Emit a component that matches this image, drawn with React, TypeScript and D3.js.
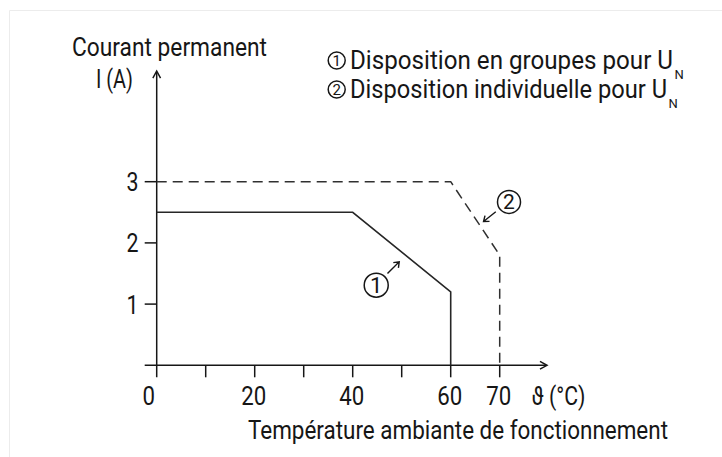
import React, { useEffect, useRef } from 'react';
import * as d3 from 'd3';

// Data
const tempTicks = [0, 10, 20, 30, 40, 50, 60, 70];
const tempLabels = [0, 20, 40, 60, 70];
const currentTicks = [1, 2, 3];
const groupTemp = [0, 40, 60, 60];
const groupCurrent = [2.5, 2.5, 1.2, 0];
const singleTemp = [0, 60, 70, 70];
const singleCurrent = [3, 3, 1.8, 0];
const legendItems = ['Disposition en groupes pour U', 'Disposition individuelle pour U'];

const FONT = 'Roboto, "Noto Sans", sans-serif';
const INK = '#161616';

const App = () => {
  const svgRef = useRef<SVGSVGElement | null>(null);

  useEffect(() => {
    const svg = d3.select(svgRef.current);
    svg.selectAll('*').remove();

    const x = d3.scaleLinear().domain([0, 70]).range([156.7, 499.7]);
    const y = d3.scaleLinear().domain([0, 3]).range([365.3, 181.7]);

    // faint frame
    svg.append('path')
      .attr('d', 'M9.5,457 V10.5 H722')
      .attr('fill', 'none')
      .attr('stroke', '#ececec')
      .attr('stroke-width', 1);

    const chevron = (tx: number, ty: number, angle: number, len = 8, spread = 0.5) => {
      const a1 = angle + Math.PI - spread;
      const a2 = angle + Math.PI + spread;
      return `M${tx + len * Math.cos(a1)},${ty + len * Math.sin(a1)} L${tx},${ty} L${tx + len * Math.cos(a2)},${ty + len * Math.sin(a2)}`;
    };

    const axes = svg.append('g')
      .attr('stroke', INK)
      .attr('stroke-width', 1.5)
      .attr('fill', 'none');

    // X axis with arrow
    axes.append('line')
      .attr('x1', x(0) - 12).attr('x2', 546)
      .attr('y1', y(0)).attr('y2', y(0));
    axes.append('path').attr('d', chevron(547, y(0), 0));

    // Y axis with arrow
    axes.append('line')
      .attr('x1', x(0)).attr('x2', x(0))
      .attr('y1', y(0) + 12).attr('y2', 72);
    axes.append('path').attr('d', chevron(x(0), 71, -Math.PI / 2));

    // x ticks
    axes.selectAll('.xtick')
      .data(tempTicks.filter(d => d > 0))
      .enter()
      .append('line')
      .attr('x1', d => x(d)).attr('x2', d => x(d))
      .attr('y1', y(0)).attr('y2', y(0) + 12);

    // y ticks
    axes.selectAll('.ytick')
      .data(currentTicks)
      .enter()
      .append('line')
      .attr('x1', x(0) - 12).attr('x2', x(0))
      .attr('y1', d => y(d)).attr('y2', d => y(d));

    // tick labels
    svg.selectAll('.xlabel')
      .data(tempLabels)
      .enter()
      .append('text')
      .attr('x', d => x(d) + (d === 0 ? -8 : -1))
      .attr('y', 405)
      .attr('text-anchor', 'middle')
      .attr('textLength', d => String(d).length * 12.5)
      .attr('lengthAdjust', 'spacingAndGlyphs')
      .style('font-family', FONT)
      .style('font-size', '25px')
      .style('fill', INK)
      .text(d => d);

    svg.selectAll('.ylabel')
      .data(currentTicks)
      .enter()
      .append('text')
      .attr('x', 138.5)
      .attr('y', d => y(d) + 9.5)
      .attr('text-anchor', 'end')
      .attr('textLength', 12)
      .attr('lengthAdjust', 'spacingAndGlyphs')
      .style('font-family', FONT)
      .style('font-size', '25px')
      .style('fill', INK)
      .text(d => d);

    const label = (tx: number, ty: number, s: string, len: number, size = 25) =>
      svg.append('text')
        .attr('x', tx).attr('y', ty)
        .attr('textLength', len)
        .attr('lengthAdjust', 'spacingAndGlyphs')
        .style('font-family', FONT)
        .style('font-size', `${size}px`)
        .style('fill', INK)
        .text(s);

    label(531.5, 405, 'ϑ (°C)', 54);
    label(248, 439, 'Température ambiante de fonctionnement', 420);
    label(72, 56, 'Courant permanent', 195);
    label(96, 88, 'I (A)', 37);

    // Curves
    const groupPts: [number, number][] = groupTemp.map((t, i) => [x(t), y(groupCurrent[i])]);
    const singlePts: [number, number][] = singleTemp.map((t, i) => [x(t), y(singleCurrent[i])]);
    const path = d3.line();

    svg.append('path')
      .attr('d', path(groupPts))
      .attr('fill', 'none')
      .attr('stroke', '#262626')
      .attr('stroke-width', 1.6);

    svg.append('path')
      .attr('d', path(singlePts))
      .attr('fill', 'none')
      .attr('stroke', '#303030')
      .attr('stroke-width', 1.5)
      .attr('stroke-dasharray', '10,6');

    // circled number markers
    const circled = (cx: number, cy: number, r: number, n: string, size: number) => {
      const g = svg.append('g');
      g.append('circle')
        .attr('cx', cx).attr('cy', cy).attr('r', r)
        .attr('fill', 'none')
        .attr('stroke', INK)
        .attr('stroke-width', 1.5);
      g.append('text')
        .attr('x', cx).attr('y', cy + size * 0.36)
        .attr('text-anchor', 'middle')
        .style('font-family', FONT)
        .style('font-size', `${size}px`)
        .style('fill', INK)
        .text(n);
    };

    const pointer = (x1: number, y1: number, x2: number, y2: number) => {
      const ang = Math.atan2(y2 - y1, x2 - x1);
      svg.append('path')
        .attr('d', `M${x1},${y1} L${x2},${y2} ` + chevron(x2, y2, ang, 6, 0.65))
        .attr('fill', 'none')
        .attr('stroke', INK)
        .attr('stroke-width', 1.4);
    };

    // annotation 1 near the solid curve
    circled(x(44.8), y(1.31), 12, '1', 22);
    pointer(x(47.1), y(1.5), x(49.5), y(1.69));

    // annotation 2 near the dashed curve
    circled(x(71.9), y(2.67), 11.5, '2', 21);
    pointer(x(69.2), y(2.51), x(66.7), y(2.35));

    // Legend: one text per row, subscript N as a tspan
    legendItems.forEach((s, i) => {
      const base = 69 + i * 29;
      circled(336.7, base - 8.5, 8.5, String(i + 1), 15);
      const t = svg.append('text')
        .attr('x', 350).attr('y', base)
        .style('font-family', FONT)
        .style('font-size', '25px')
        .style('fill', INK);
      t.append('tspan')
        .attr('textLength', i === 0 ? 323 : 317)
        .attr('lengthAdjust', 'spacingAndGlyphs')
        .text(s);
      t.append('tspan')
        .attr('dx', 1.5)
        .attr('dy', 9.5)
        .style('font-size', '13px')
        .text('N');
    });
  }, []);

  return (
    <svg
      ref={svgRef}
      width={722}
      height={457}
      style={{ position: 'absolute', left: 0, top: 0, background: '#fff' }}
    />
  );
};

export default App;
